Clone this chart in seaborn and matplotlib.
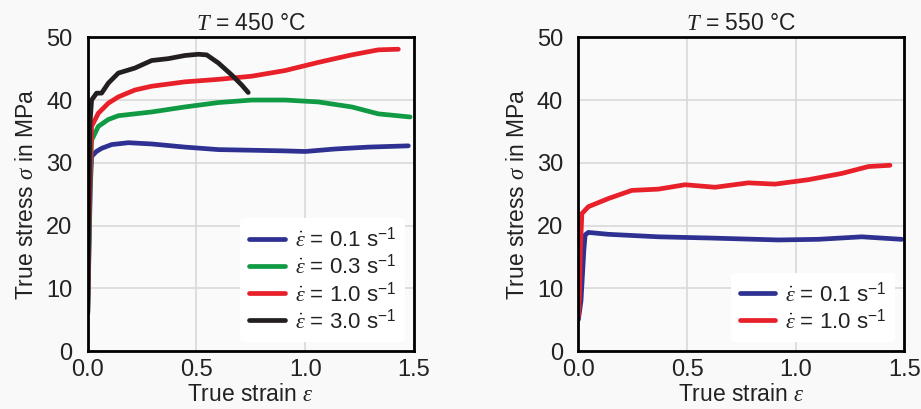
import matplotlib
matplotlib.use('Agg')
import matplotlib.pyplot as plt
import seaborn as sns

sns.set_style('white')
plt.rcParams['font.family'] = ['Liberation Sans', 'DejaVu Sans']
plt.rcParams['mathtext.fontset'] = 'custom'
plt.rcParams['mathtext.rm'] = 'Liberation Sans'
plt.rcParams['mathtext.sf'] = 'Liberation Sans'
plt.rcParams['mathtext.it'] = 'Liberation Serif:italic'

# T = 450 °C
strain_450_01 = [0.0, 0.005, 0.012, 0.018, 0.04, 0.064, 0.11, 0.187, 0.294, 0.447, 0.601, 0.754, 0.9, 1.0, 1.137, 1.29, 1.474]
stress_450_01 = [6.0, 14.0, 26.0, 31.0, 31.8, 32.3, 32.9, 33.2, 33.0, 32.5, 32.1, 32.0, 31.9, 31.8, 32.2, 32.5, 32.7]
strain_450_03 = [0.0, 0.005, 0.012, 0.018, 0.049, 0.095, 0.141, 0.294, 0.447, 0.601, 0.754, 0.907, 1.06, 1.214, 1.336, 1.482]
stress_450_03 = [6.0, 16.0, 28.0, 33.6, 35.8, 36.9, 37.5, 38.1, 38.9, 39.6, 40.0, 40.0, 39.7, 38.9, 37.8, 37.3]
strain_450_10 = [0.0, 0.005, 0.012, 0.018, 0.049, 0.095, 0.141, 0.217, 0.294, 0.447, 0.601, 0.754, 0.907, 1.06, 1.214, 1.336, 1.428]
stress_450_10 = [6.0, 18.0, 30.0, 35.8, 37.9, 39.5, 40.5, 41.6, 42.2, 42.9, 43.3, 43.8, 44.7, 46.0, 47.2, 48.0, 48.1]
strain_450_30 = [0.0, 0.005, 0.01, 0.018, 0.041, 0.064, 0.095, 0.141, 0.217, 0.294, 0.371, 0.447, 0.509, 0.547, 0.601, 0.662, 0.708, 0.738]
stress_450_30 = [6.0, 22.0, 36.0, 40.0, 41.1, 41.1, 42.7, 44.3, 45.1, 46.3, 46.6, 47.1, 47.3, 47.2, 45.9, 44.0, 42.4, 41.2]

# T = 550 °C
strain_550_01 = [0.0, 0.012, 0.025, 0.031, 0.046, 0.138, 0.368, 0.614, 0.92, 1.104, 1.304, 1.488]
stress_550_01 = [5.0, 8.0, 16.0, 18.5, 18.9, 18.6, 18.2, 18.0, 17.7, 17.8, 18.2, 17.8]
strain_550_10 = [0.0, 0.005, 0.01, 0.016, 0.046, 0.138, 0.246, 0.368, 0.491, 0.629, 0.782, 0.905, 1.058, 1.212, 1.335, 1.434]
stress_550_10 = [5.5, 9.0, 17.0, 21.9, 23.0, 24.3, 25.6, 25.8, 26.5, 26.1, 26.8, 26.6, 27.3, 28.3, 29.4, 29.6]

BLUE = '#2e3192'
GREEN = '#0f9a43'
RED = '#e8202a'
BLACK = '#231f20'
TXT = '#222222'

def lbl(rate):
    return r'$\dot{\varepsilon}$ = ' + rate + r' s$^{\mathrm{-1}}$'

fig = plt.figure(figsize=(9.21, 4.09), dpi=100, facecolor='#f9f9f9')
ax1 = fig.add_axes([0.0952, 0.1418, 0.3543, 0.767])
ax2 = fig.add_axes([0.628, 0.1418, 0.3539, 0.767])

series = [
    (ax1, strain_450_01, stress_450_01, BLUE, lbl('0.1')),
    (ax1, strain_450_03, stress_450_03, GREEN, lbl('0.3')),
    (ax1, strain_450_10, stress_450_10, RED, lbl('1.0')),
    (ax1, strain_450_30, stress_450_30, BLACK, lbl('3.0')),
    (ax2, strain_550_01, stress_550_01, BLUE, lbl('0.1')),
    (ax2, strain_550_10, stress_550_10, RED, lbl('1.0')),
]
for ax, x, y, c, l in series:
    sns.lineplot(x=x, y=y, ax=ax, color=c, label=l, linewidth=3.4,
                 estimator=None, sort=False, solid_capstyle='round',
                 solid_joinstyle='round')

for ax, t in [(ax1, '450'), (ax2, '550')]:
    ax.set_facecolor('#fafafa')
    ax.set_xlim(0, 1.5)
    ax.set_ylim(0, 50)
    ax.set_xticks([0, 0.5, 1.0, 1.5])
    ax.set_xticklabels(['0.0', '0.5', '1.0', '1.5'])
    ax.set_yticks([0, 10, 20, 30, 40, 50])
    ax.grid(True, color='#d9d9d9', linewidth=1.2)
    ax.set_axisbelow(True)
    ax.tick_params(length=0, labelsize=17, colors=TXT)
    ax.tick_params(axis='y', pad=11)
    ax.tick_params(axis='x', pad=6)
    for s in ax.spines.values():
        s.set_color('black')
        s.set_linewidth(2)
    ax.set_title(r'$T$ = ' + t + ' °C', fontsize=16.5, pad=5, color=TXT)
    ax.set_xlabel(r'True strain $\varepsilon$', fontsize=16.5, labelpad=1, color=TXT)
    ax.set_ylabel(r'True stress $\sigma$ in MPa', fontsize=16.5, labelpad=6, color=TXT)
    leg = ax.legend(loc='lower right', fontsize=16, frameon=True, framealpha=1,
                    facecolor='white', edgecolor='white', handlelength=1.6,
                    handletextpad=0.45, labelspacing=0.12, borderaxespad=0.4,
                    borderpad=0.4)
    leg.get_frame().set_linewidth(0)
    for txt in leg.get_texts():
        txt.set_color(TXT)

fig.savefig('out.png', dpi=100, facecolor=fig.get_facecolor())
